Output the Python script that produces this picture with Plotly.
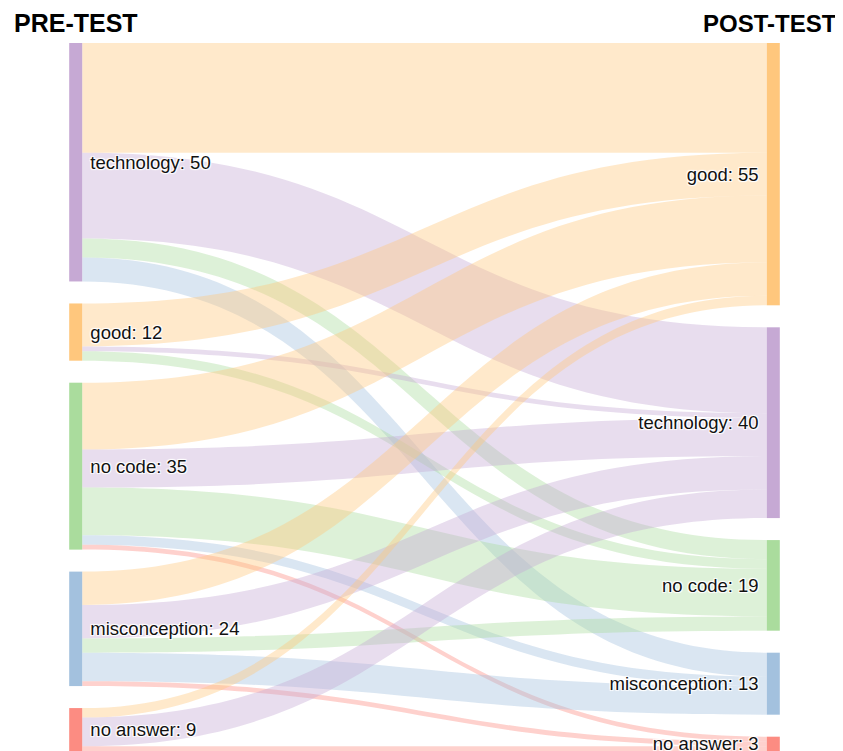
import plotly.graph_objects as go

# Categories and colours
categories = ["technology", "good", "no code", "misconception", "no answer"]
cat_colors = ["#c6a9d4", "#ffc77d", "#aadc9d", "#a3c1de", "#fc8c82"]

pre_order = ["technology", "good", "no code", "misconception", "no answer"]
post_order = ["good", "technology", "no code", "misconception", "no answer"]

# Flows: pre-test category -> post-test category (counts)
flow_source = ["technology", "technology", "technology", "technology",
               "good", "good", "good",
               "no code", "no code", "no code", "no code", "no code",
               "misconception", "misconception", "misconception", "misconception", "misconception",
               "no answer", "no answer", "no answer"]
flow_target = ["good", "technology", "no code", "misconception",
               "good", "technology", "no code",
               "good", "technology", "no code", "misconception", "no answer",
               "good", "technology", "no code", "misconception", "no answer",
               "good", "technology", "no answer"]
flow_value = [23, 18, 4, 5,
              9, 1, 2,
              14, 8, 10, 2, 1,
              7, 7, 3, 6, 1,
              2, 6, 1]

# Figure geometry (page body adds an 8px margin)
FIG_W, FIG_H = 835, 743
M_L, M_R, M_T, M_B = 67, 69, 35, 0
PAD = 22
THICK = 13


def hex_to_rgba(h, a):
    h = h.lstrip("#")
    r, g, b = int(h[0:2], 16), int(h[2:4], 16), int(h[4:6], 16)
    return f"rgba({r},{g},{b},{a})"


color_of = dict(zip(categories, cat_colors))

pre_tot = [sum(v for s, v in zip(flow_source, flow_value) if s == c) for c in pre_order]
post_tot = [sum(v for t, v in zip(flow_target, flow_value) if t == c) for c in post_order]

# Keep the column order fixed: compute node centres from the totals
area_h = FIG_H - M_T - M_B
ky = min((area_h - PAD * (len(pre_tot) - 1)) / sum(pre_tot),
         (area_h - PAD * (len(post_tot) - 1)) / sum(post_tot))


def centres(totals):
    out, y = [], 0.0
    for t in totals:
        h = t * ky
        out.append((y + h / 2) / area_h)
        y += h + PAD
    return out


node_x = [0.001] * len(pre_order) + [0.999] * len(post_order)
node_y = centres(pre_tot) + centres(post_tot)

NB = "\u00a0"
node_labels = ([f"{NB}{c}: {t}{NB}" for c, t in zip(pre_order, pre_tot)] +
               [f"{NB}{c}: {t}{NB}" for c, t in zip(post_order, post_tot)])
node_colors = [color_of[c] for c in pre_order] + [color_of[c] for c in post_order]

src_idx = [pre_order.index(s) for s in flow_source]
tgt_idx = [len(pre_order) + post_order.index(t) for t in flow_target]
link_colors = [hex_to_rgba(color_of[t], 0.4) for t in flow_target]

fig = go.Figure(go.Sankey(
    arrangement="snap",
    node=dict(
        label=node_labels,
        color=node_colors,
        x=node_x,
        y=node_y,
        pad=PAD,
        thickness=THICK,
        line=dict(width=0),
    ),
    link=dict(
        source=src_idx,
        target=tgt_idx,
        value=flow_value,
        color=link_colors,
    ),
    textfont=dict(family="Liberation Sans, Arial, sans-serif", size=18.5, color="#111"),
))

fig.add_annotation(text="<b>PRE-TEST</b>", x=0, xref="paper", xanchor="left",
                   y=1, yref="paper", yanchor="bottom", yshift=4, xshift=-63,
                   showarrow=False,
                   font=dict(family="Liberation Sans, Arial, sans-serif", size=25, color="black"))
fig.add_annotation(text="<b>POST-TEST</b>", x=1, xref="paper", xanchor="right",
                   y=1, yref="paper", yanchor="bottom", yshift=4, xshift=65,
                   showarrow=False,
                   font=dict(family="Liberation Sans, Arial, sans-serif", size=24, color="black"))

fig.update_layout(
    width=FIG_W, height=FIG_H,
    margin=dict(l=M_L, r=M_R, t=M_T, b=M_B),
    paper_bgcolor="white",
    plot_bgcolor="white",
)

fig.write_html("out.html")
